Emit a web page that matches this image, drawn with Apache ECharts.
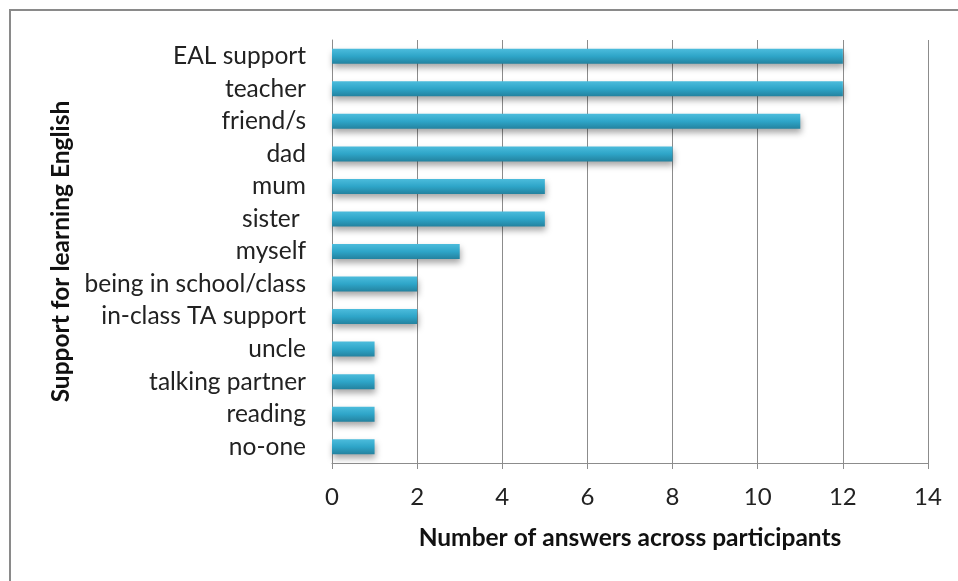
<!DOCTYPE html>
<html>
<head>
<meta charset="utf-8">
<script src="https://cdn.jsdelivr.net/npm/echarts@6/dist/echarts.min.js"></script>
<style>
  html, body { margin: 0; padding: 0; background: #fff; }
  #chart { width: 958px; height: 581px; }
</style>
</head>
<body>
<div id="chart"></div>
<script>
// Sources of support named by participants (listed bottom to top)
const categories = ['no-one', 'reading', 'talking partner', 'uncle', 'in-class TA support',
  'being in school/class', 'myself', 'sister ', 'mum', 'dad', 'friend/s', 'teacher', 'EAL support'];
const answers = [1, 1, 1, 1, 2, 2, 3, 5, 5, 8, 11, 12, 12];
const xTicks = { min: 0, max: 14, step: 2 };

const FONT = 'Lato, "Open Sans", sans-serif';

const chart = echarts.init(document.getElementById('chart'));
chart.setOption({
  backgroundColor: '#ffffff',
  animation: false,
  graphic: [{
    type: 'rect',
    shape: { x: 10, y: 10, width: 1000, height: 1000 },
    style: { fill: 'none', stroke: '#8a8a8a', lineWidth: 2 },
    silent: true
  }],
  grid: { left: 332, right: 30, top: 40, bottom: 118 },
  xAxis: {
    type: 'value',
    min: xTicks.min, max: xTicks.max, interval: xTicks.step,
    name: 'Number of answers across participants',
    nameLocation: 'middle',
    nameGap: 63,
    nameTextStyle: { fontFamily: FONT, fontSize: 24.5, fontWeight: 'bold', color: '#111' },
    axisLine: { show: true, lineStyle: { color: '#8c8c8c', width: 1 } },
    axisTick: { show: true, length: 6, lineStyle: { color: '#8c8c8c' } },
    axisLabel: { fontFamily: FONT, fontSize: 24, color: '#222', margin: 22 },
    splitLine: { show: true, lineStyle: { color: '#8c8c8c', width: 1 } }
  },
  yAxis: {
    type: 'category',
    data: categories,
    name: 'Support for learning English',
    nameLocation: 'middle',
    nameGap: 256,
    nameRotate: 90,
    nameTextStyle: { fontFamily: FONT, fontSize: 24.5, fontWeight: 'bold', color: '#111' },
    axisLine: { show: true, lineStyle: { color: '#8c8c8c', width: 1 } },
    axisTick: { show: false },
    axisLabel: { fontFamily: FONT, fontSize: 24.5, color: '#222', margin: 26 },
    splitLine: { show: false }
  },
  series: [{
    type: 'bar',
    data: answers,
    barWidth: 15,
    itemStyle: {
      color: new echarts.graphic.LinearGradient(0, 0, 0, 1, [
        { offset: 0, color: '#4cbcdc' },
        { offset: 0.5, color: '#2ea5c8' },
        { offset: 1, color: '#24829f' }
      ]),
      shadowColor: 'rgba(0,0,0,0.35)',
      shadowBlur: 6,
      shadowOffsetY: 4,
      shadowOffsetX: 1
    }
  }]
});
</script>
</body>
</html>
